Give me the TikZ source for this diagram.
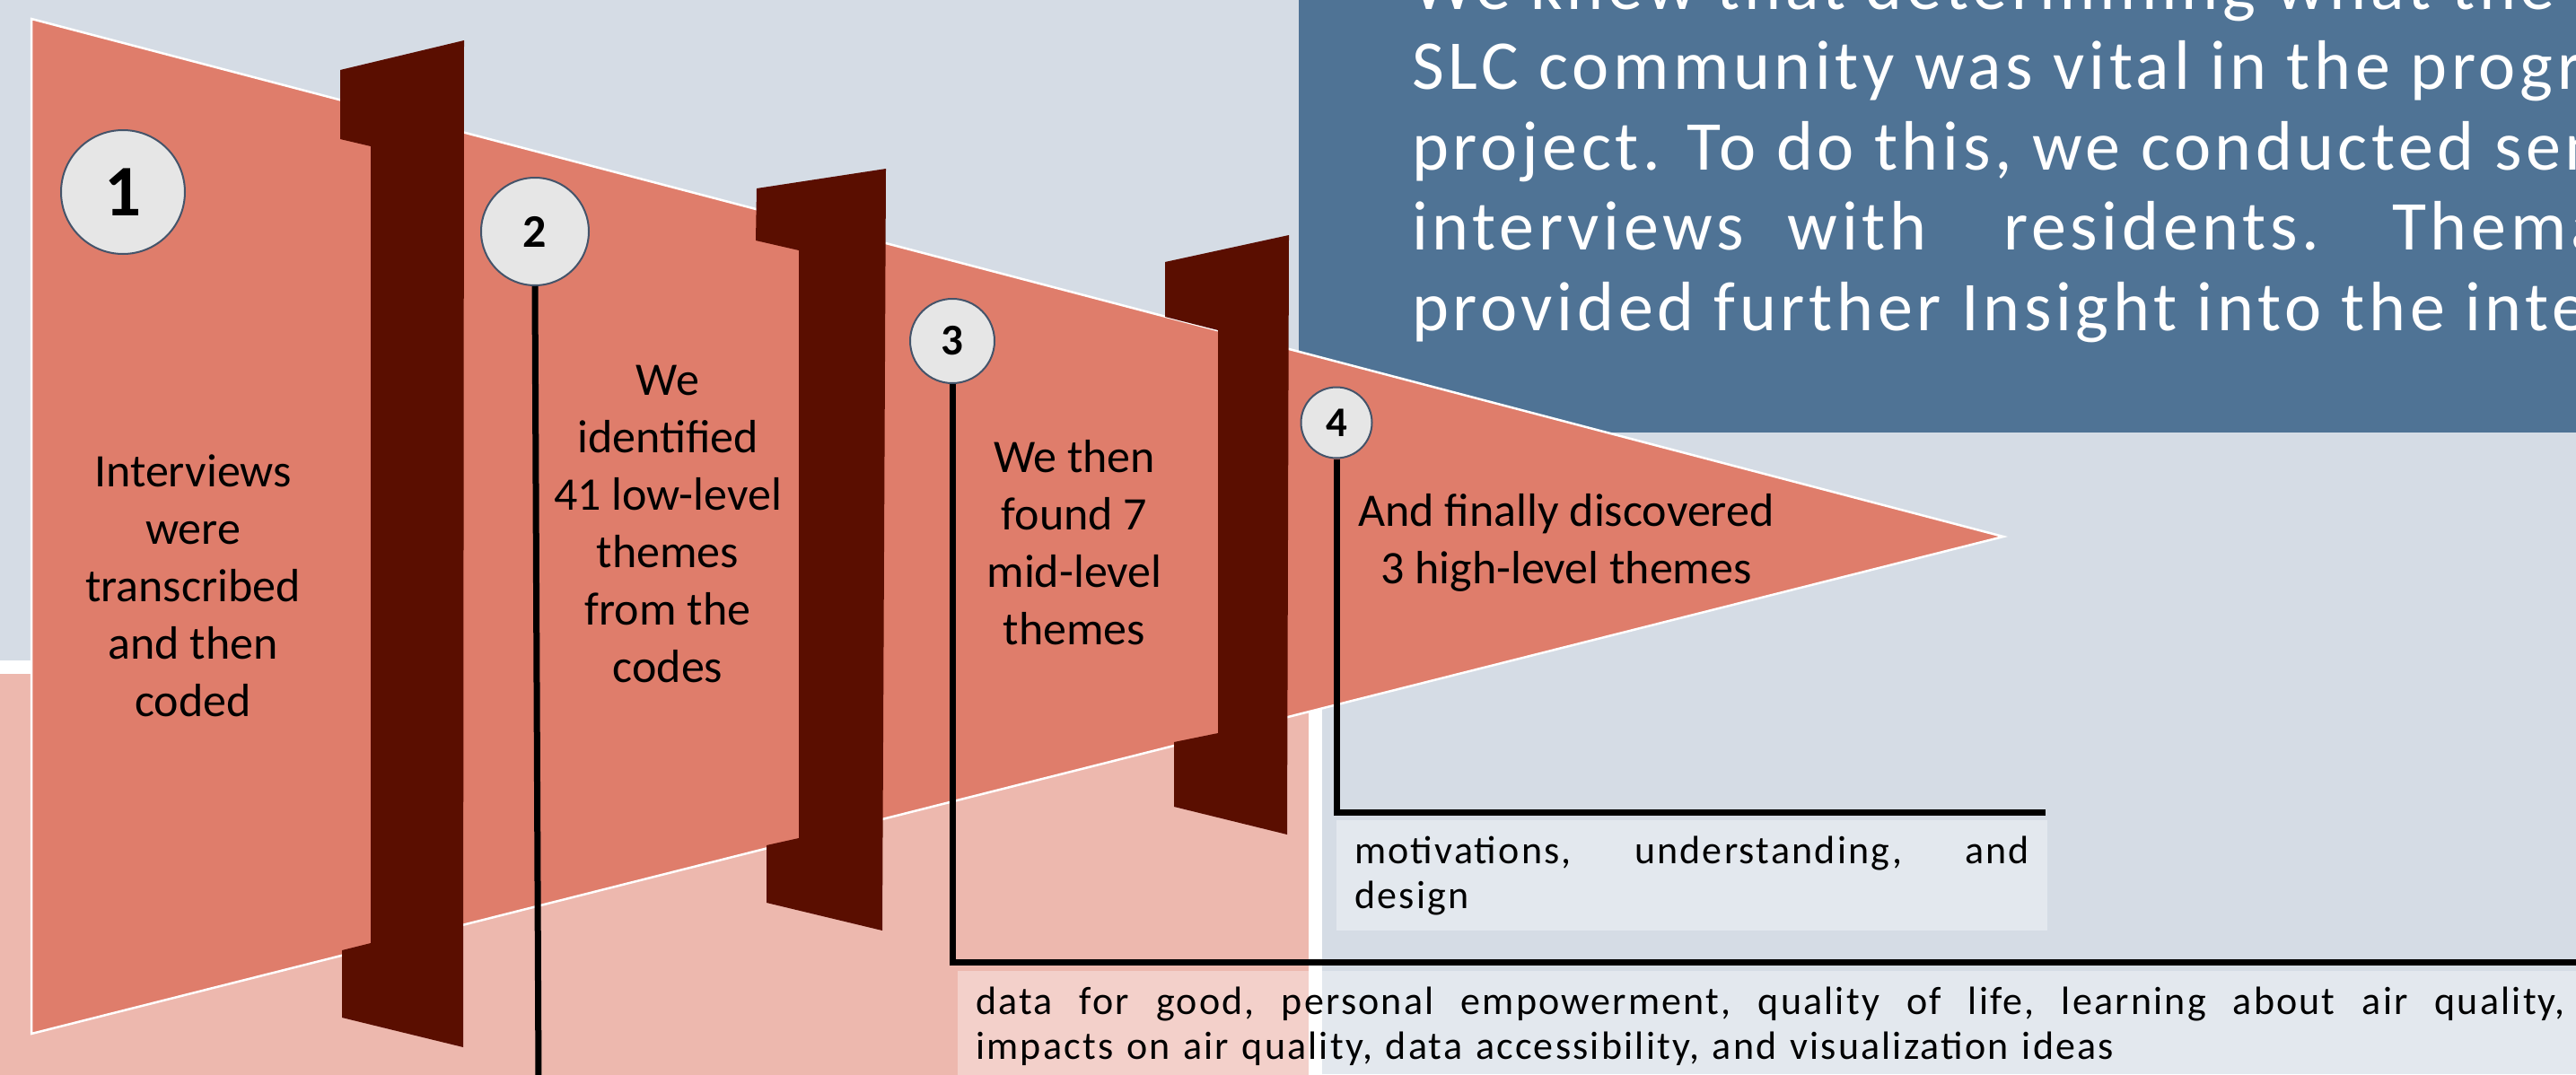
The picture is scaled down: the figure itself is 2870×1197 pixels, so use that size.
\documentclass[tikz,border=0pt]{standalone}
\usepackage{fontspec}
\setmainfont{Carlito}
\newfontfamily\introfont[LetterSpace=6]{Carlito}
\newfontfamily\notefont[LetterSpace=5]{Carlito}

\definecolor{sky}{HTML}{D5DCE5}
\definecolor{slate}{HTML}{4F7395}
\definecolor{salmon}{HTML}{DF7D6B}
\definecolor{blush}{HTML}{EDB8AE}
\definecolor{barbrown}{HTML}{5A0E00}
\definecolor{ringfill}{HTML}{E6E6E6}
\definecolor{ringline}{HTML}{44546A}

\tikzset{
	stage/.style={circle, draw=ringline, line width=2pt, fill=ringfill, inner sep=0pt},
	stagetext/.style={align=center, inner sep=0pt, font=\fontsize{52}{64}\selectfont},
	leader/.style={line width=7pt, black},
	notebox/.style={anchor=north west, fill=white, fill opacity=0.35, text opacity=1, align=left, font=\notefont\fontsize{44}{50}\selectfont},
	introline/.style={anchor=base west, inner sep=0pt, white, font=\introfont\fontsize{78}{89}\selectfont},
}

\begin{document}
\begin{tikzpicture}[x=1pt, y=-1pt]
	%%%%% BACKGROUND %%%%%
	\useasboundingbox (0,0) rectangle (2870,1197);
	\clip (0,0) rectangle (2870,1197);
	\fill[sky] (0,0) rectangle (2870,1197);
	\fill[white] (-5,736) rectangle (1473,1205);
	\fill[blush] (-5,751) rectangle (1458,1205);
	\fill[slate] (1447,-5) rectangle (2875,482);

	%%%%% INTRO TEXT %%%%%
	\node[introline] (intro1) at (1573,10) {We knew that determining what the residents of the};
	\node[introline] (intro2) at (1573,99) {SLC community was vital in the progress of the};
	\node[introline] (intro3) at (1573,189) {project. To do this, we conducted semi-structured};
	\node[introline] (intro4) at (1573,278) {interviews\hskip 49pt with\hskip 86pt residents.\hskip 81pt Thematic};
	\node[introline] (intro5) at (1573,368) {provided further Insight into the interests};

	%%%%% FUNNEL %%%%%
	\draw[fill=salmon, draw=white, line width=2.5pt] (35,21) -- (2232,598) -- (35,1152) -- cycle;

	% dividers
	\fill[barbrown] (379,78) -- (517,45) -- (516,1167) -- (381,1134) -- (381,1059) -- (413,1051) -- (413,163) -- (379,155) -- cycle;
	\fill[barbrown] (843,210) -- (987,188) -- (983,1037) -- (854,1006) -- (854,942) -- (890,934) -- (890,279) -- (842,268) -- cycle;
	\fill[barbrown] (1298,292) -- (1436,262) -- (1434,930) -- (1308,899) -- (1308,827) -- (1357,817) -- (1357,368) -- (1298,353) -- cycle;

	%%%%% STAGES %%%%%
	\node[stage, minimum size=138pt, font=\bfseries\fontsize{81}{81}\selectfont] (c1) at (137,214) {1};
	\node[stage, minimum size=120pt, font=\bfseries\fontsize{52}{52}\selectfont] (c2) at (596,258) {2};
	\node[stage, minimum size=94pt, font=\bfseries\fontsize{49}{49}\selectfont] (c3) at (1061,380) {3};
	\node[stage, minimum size=79pt, font=\bfseries\fontsize{47}{47}\selectfont] (c4) at (1489,471) {4};

	\node[stagetext] (s1) at (215,653) {Interviews\\were\\transcribed\\and then\\coded};
	\node[stagetext] (s2) at (744,584) {We\\identified\\41 low-level\\themes\\from the\\codes};
	\node[stagetext] (s3) at (1197,605) {We then\\found 7\\mid-level\\themes};
	\node[stagetext] (s4) at (1745,605) {And finally discovered\\3 high-level themes};

	%%%%% RESULTS %%%%%
	\node[notebox, text width=752pt, inner xsep=20pt, minimum height=123pt] (r4) at (1489,914)
		{\makebox[752pt][l]{motivations,\hfill understanding,\hfill and}\\design};
	\node[notebox, text width=1771pt, inner xsep=20pt, minimum height=124pt] (r3) at (1067,1082)
		{\makebox[1771pt][l]{data\hfill for\hfill good,\hfill personal\hfill empowerment,\hfill quality\hfill of\hfill life,\hfill learning\hfill about\hfill air\hfill quality,}\\impacts on air quality, data accessibility, and visualization ideas};

	\coordinate (k2) at (600,1205);
	\coordinate (k3) at (2880,1072);
	\coordinate (k4) at (2279,905);
	\draw[leader] (c2.south) -- (k2);
	\draw[leader] (c3.south) |- (k3);
	\draw[leader] (c4.south) |- (k4);
\end{tikzpicture}
\end{document}
